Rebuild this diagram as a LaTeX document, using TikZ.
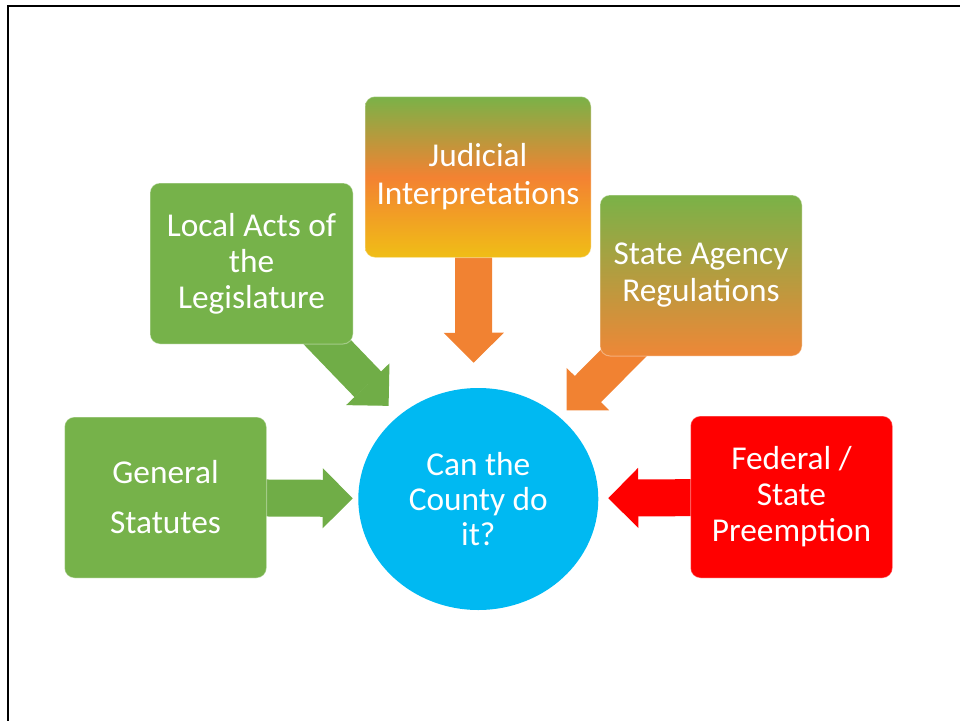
\documentclass[tikz,border=0pt]{standalone}
\usepackage{fontspec}
\setmainfont{Carlito}
\usetikzlibrary{arrows.meta,shapes.geometric,backgrounds}

\definecolor{boxgreen}{RGB}{118,178,74}
\definecolor{arrowgreen}{RGB}{112,173,71}
\definecolor{topgreen}{RGB}{122,178,72}
\definecolor{midorange}{RGB}{243,130,50}
\definecolor{lowgold}{RGB}{240,190,22}
\definecolor{lowamber}{RGB}{238,135,55}
\definecolor{arroworange}{RGB}{241,130,50}
\definecolor{skyblue}{RGB}{0,185,242}

\tikzset{
  slidebox/.style={rounded corners=7.5pt, minimum width=151.5pt, minimum height=120.75pt, inner sep=0pt,
    align=center, text=white, font=\fontsize{25}{27}\selectfont, draw=white, draw opacity=0.35, line width=0.75pt},
  blockarrow/.style={draw=#1, line width=27.75pt, -{Triangle[length=22.5pt,width=45pt,line width=1pt]}}
}

\begin{document}
\begin{tikzpicture}[x=0.75pt,y=0.75pt,yscale=-1,xscale=1]
  \useasboundingbox (0,0) rectangle (960,721);

  %Frame
  \draw[line width=1.5pt] (960,5.7) -- (7.7,5.7) -- (7.7,721);

  %Rounded Rects
  \node[slidebox, fill=boxgreen] (general) at (165.5,497.5) {General\\[10.5pt]Statutes};
  \node[slidebox, fill=boxgreen, minimum width=152.25pt] (localacts) at (251.5,263.5) {Local Acts of\\the\\Legislature};
  \node[slidebox, minimum width=169.5pt, top color=topgreen, bottom color=lowgold, middle color=midorange,
    font=\fontsize{25}{28.5}\selectfont] (judicial) at (478,177) {Judicial\\Interpretations};
  \node[slidebox, top color=topgreen, bottom color=lowamber,
    font=\fontsize{25}{27.75}\selectfont] (agency) at (701,275.5) {State Agency\\Regulations};
  \node[slidebox, fill=red, minimum height=121.5pt] (federal) at (791.5,497) {Federal /\\State\\Preemption};

  %Ellipse
  \node[ellipse, fill=skyblue, minimum width=180pt, minimum height=166.5pt, inner sep=0pt,
    align=center, text=white, font=\fontsize{25}{26.25}\selectfont] (county) at (478.3,499) {Can the\\County do\\it?};

  %Block Arrows
  \begin{scope}[on background layer]
    \draw[blockarrow=arrowgreen, shorten >=4pt] (general.center) -- (county);
    \draw[blockarrow=arrowgreen, shorten >=10.5pt] (localacts.center) -- (county);
    \draw[blockarrow=arroworange, shorten >=18.75pt] ([xshift=-3.4pt]judicial.center) -- ([xshift=-3.4pt]county.north);
    \draw[blockarrow=arroworange, shorten >=7.3pt] (agency.center) -- (county);
    \draw[blockarrow=red, shorten >=7.3pt] (federal.center) -- (county);
  \end{scope}
\end{tikzpicture}
\end{document}
